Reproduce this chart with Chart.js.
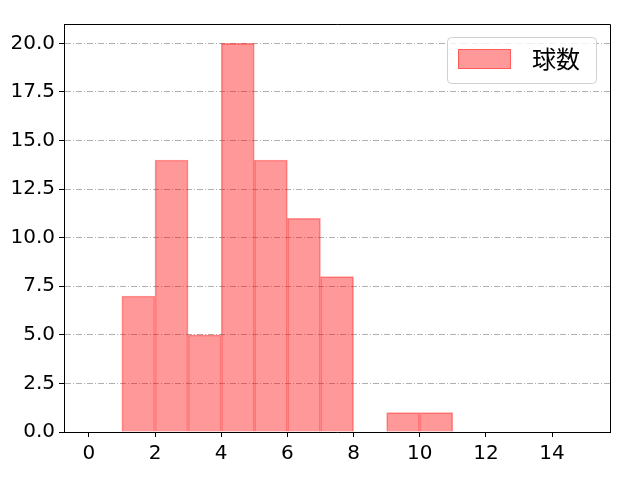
<!DOCTYPE html>
<html>
<head>
<meta charset="utf-8">
<script src="https://cdn.jsdelivr.net/npm/chart.js@4/dist/chart.umd.min.js"></script>
<style>
	html, body { margin: 0; padding: 0; background: #fff; }
	#chart { display: block; }
</style>
</head>
<body>
<canvas id="chart" width="640" height="480"></canvas>
<script>
// histogram bins (width 1, from 0 to 15) and pitch counts
const bin_centers = [0.5, 1.5, 2.5, 3.5, 4.5, 5.5, 6.5, 7.5, 8.5, 9.5, 10.5, 11.5, 12.5, 13.5, 14.5];
const counts = [0, 7, 14, 5, 20, 14, 11, 8, 0, 1, 1, 0, 0, 0, 0];
const x_ticks = [0, 2, 4, 6, 8, 10, 12, 14];
const y_ticks = [0, 2.5, 5, 7.5, 10, 12.5, 15, 17.5, 20];
const series_label = '球数';

const tick_font = '"DejaVu Sans", sans-serif';
const cjk_font = '"Noto Sans CJK JP", sans-serif';

// top/right spines + legend box in the top right corner
const frame_legend = {
	id: 'frame_legend',
	afterDraw(chart) {
		const ctx = chart.ctx;
		const area = chart.chartArea;
		ctx.save();
		ctx.strokeStyle = '#000';
		ctx.lineWidth = 1;
		ctx.beginPath();
		ctx.moveTo(area.left, area.top + 0.5);
		ctx.lineTo(area.right + 0.5, area.top + 0.5);
		ctx.lineTo(area.right + 0.5, area.bottom);
		ctx.stroke();

		const ds = chart.data.datasets[0];
		const bx = 447, by = 37, bw = 149, bh = 46;
		ctx.fillStyle = 'rgba(255,255,255,0.8)';
		ctx.strokeStyle = '#d0d0d0';
		ctx.beginPath();
		ctx.roundRect(bx + 0.5, by + 0.5, bw, bh, 4);
		ctx.fill();
		ctx.stroke();
		ctx.fillStyle = ds.backgroundColor;
		ctx.fillRect(458, 49, 53, 20);
		ctx.strokeStyle = ds.borderColor;
		ctx.strokeRect(458.5, 49.5, 52, 19);
		ctx.fillStyle = '#000';
		ctx.font = '24px ' + cjk_font;
		ctx.textBaseline = 'middle';
		ctx.fillText(ds.label, 532, 59);
		ctx.restore();
	}
};

new Chart(document.getElementById('chart'), {
	type: 'bar',
	data: {
		datasets: [{
			label: series_label,
			data: bin_centers.map((x, i) => ({x: x, y: counts[i]})),
			backgroundColor: 'rgba(255, 0, 0, 0.4)',
			borderColor: 'rgba(255, 0, 0, 0.4)',
			borderWidth: 1,
			barPercentage: 1,
			categoryPercentage: 1,
			borderSkipped: 'bottom'
		}]
	},
	options: {
		responsive: false,
		animation: false,
		devicePixelRatio: 1,
		layout: { padding: { top: 24, right: 30, left: 0, bottom: 0 } },
		plugins: {
			legend: { display: false },
			tooltip: { enabled: false }
		},
		scales: {
			x: {
				type: 'linear',
				offset: false,
				min: -0.75,
				max: 15.75,
				afterBuildTicks: scale => { scale.ticks = x_ticks.map(v => ({value: v})); },
				afterFit: scale => { scale.height = 48; },
				grid: { offset: false, drawOnChartArea: false, drawTicks: true, tickLength: 5, tickColor: '#000', color: '#000' },
				border: { color: '#000', width: 1 },
				ticks: {
					color: '#000',
					padding: 5,
					maxRotation: 0,
					font: { family: tick_font, size: 20 },
					callback: v => String(v)
				}
			},
			y: {
				min: 0,
				max: 21,
				afterBuildTicks: scale => { scale.ticks = y_ticks.map(v => ({value: v})); },
				afterFit: scale => { scale.width = 64; },
				grid: { color: '#b0b0b0', lineWidth: 1, drawTicks: true, tickLength: 5, tickColor: '#000' },
				border: { color: '#000', width: 1, dash: [6, 2, 1, 2] },
				ticks: {
					color: '#000',
					padding: 4,
					font: { family: tick_font, size: 20 },
					callback: v => v.toFixed(1)
				}
			}
		}
	},
	plugins: [frame_legend]
});
</script>
</body>
</html>
